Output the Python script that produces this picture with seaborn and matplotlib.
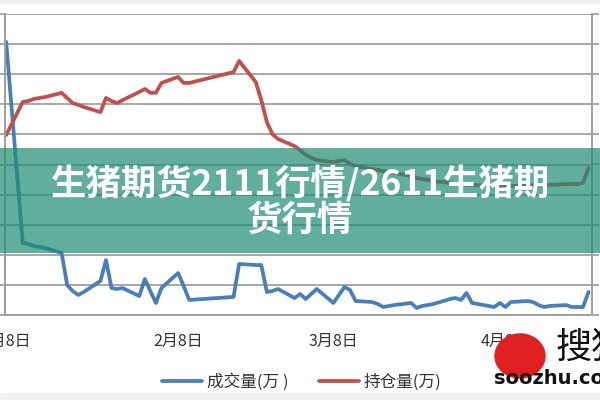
import pandas as pd
import numpy as np
import matplotlib.pyplot as plt
from matplotlib.patches import Rectangle, Ellipse
import seaborn as sns

sns.set_style("white")
plt.rcParams['font.family'] = ['Noto Sans CJK SC', 'DejaVu Sans']

## trading calendar: weekdays minus exchange holidays
holidays = ["2021-02-11", "2021-02-12", "2021-02-15", "2021-02-16", "2021-02-17", "2021-04-05"]
trade_days = pd.bdate_range("2021-01-08", "2021-04-23")
trade_days = trade_days[~trade_days.isin(pd.to_datetime(holidays))]

# 成交量(万)
volume = [18.14, 4.78, 4.72, 4.58, 4.52, 4.45, 4.12, 1.99, 1.59, 1.33, 1.53, 2.26, 3.65, 1.79, 1.73, 1.79,
          1.26, 2.39, 1.59, 0.80, 1.79, 2.79, 1.93, 1.00, 1.20, 3.39, 3.32, 3.32, 1.53, 1.59, 1.73,
          1.13, 1.40, 1.06, 1.40, 1.73, 0.80, 1.33, 1.86, 1.66, 0.93, 0.86, 0.73, 0.53, 0.60, 0.66,
          0.80, 0.47, 0.60, 0.66, 0.73, 1.06, 1.13, 1.00,
          1.46, 0.80, 0.53, 0.80, 0.53, 0.86, 0.93, 0.86, 0.66, 0.53, 0.60, 0.66, 0.53, 0.53, 0.53, 1.53]
# 持仓量(万)
open_interest = [5.98, 7.08, 7.11, 7.18, 7.21, 7.24, 7.38, 7.21, 7.04, 6.98, 6.91, 6.74, 7.21, 7.11, 7.04, 7.14,
                 7.41, 7.51, 7.38, 7.38, 7.71, 7.91, 7.71, 7.71, 8.07, 8.44, 7.74, 7.14, 6.41, 6.01, 5.85,
                 5.61, 5.48, 5.32, 5.22, 5.15, 5.08, 5.12, 5.15, 5.02, 4.95, 4.85, 4.82, 4.78, 4.75, 4.72,
                 4.62, 4.55, 4.52, 4.49, 4.45, 4.39, 4.35, 4.35,
                 4.32, 4.32, 4.29, 4.29, 4.32, 4.29, 4.29, 4.32, 4.29, 4.32, 4.32, 4.35, 4.35, 4.35, 4.39, 4.88]

tick_dates = ["2021-01-08", "2021-02-08", "2021-03-08", "2021-04-08"]
tick_labels = ["1月8日", "2月8日", "3月8日", "4月8日"]
series_names = ["成交量(万 )", "持仓量(万)"]
title_lines = ["生猪期货2111行情/2611生猪期", "货行情"]

df = pd.DataFrame({'date': trade_days, 'volume': volume, 'oi': open_interest})

fig = plt.figure(figsize=(6, 4), dpi=100)
ax = fig.add_axes([5 / 600, 1 - 315 / 400, 587 / 600, 301 / 400])
ax2 = ax.twinx()

sns.lineplot(x='date', y='volume', data=df, ax=ax, color='#4a7ebb', linewidth=2.7, label=series_names[0], legend=False)
sns.lineplot(x='date', y='oi', data=df, ax=ax2, color='#c0504d', linewidth=2.7, label=series_names[1], legend=False)

grid_c = '#a0a0a0'
ax.set_ylim(0, 20)
ax.set_yticks(np.arange(0, 21, 2))
ax2.set_ylim(0, 10)
ax2.set_yticks(np.arange(0, 11, 1))
ax.set_yticklabels([])
ax2.set_yticklabels([])
ax.yaxis.grid(True, color=grid_c, linewidth=1.3)
ax.set_ylabel('')
ax2.set_ylabel('')
ax.set_xlabel('')

x0 = pd.Timestamp("2021-01-08") - pd.Timedelta(hours=5)
x1 = pd.Timestamp("2021-04-23") + pd.Timedelta(hours=15)
ax.set_xlim(x0, x1)
ax.set_xticks(pd.to_datetime(tick_dates))
ax.set_xticklabels(tick_labels, fontsize=11.5, color='#333333')

for a in (ax, ax2):
    for side in a.spines:
        a.spines[side].set_color(grid_c)
        a.spines[side].set_linewidth(1.3)
    a.spines['top'].set_visible(False)
    a.tick_params(axis='both', length=5, width=1.3, color=grid_c, direction='out')
ax.tick_params(axis='x', pad=8)

# legend under the plot
h1, l1 = ax.get_legend_handles_labels()
h2, l2 = ax2.get_legend_handles_labels()
fig.legend(h1 + h2, l1 + l2, loc='center', bbox_to_anchor=(0.503, 1 - 382 / 400), ncol=2, frameon=False,
           fontsize=12, handlelength=2.4, columnspacing=1.8, handletextpad=0.3,
           labelcolor='#333333')

# light strips top / bottom
fig.add_artist(Rectangle((0, 1 - 3 / 400), 1, 3 / 400, transform=fig.transFigure, color='#eeeeee', zorder=4))
fig.add_artist(Rectangle((0, 0), 1, 7 / 400, transform=fig.transFigure, color='#f2f2f2', zorder=4))

# title banner
fig.add_artist(Rectangle((0, 1 - 253 / 400), 1, 105 / 400, transform=fig.transFigure,
                         color='#1e8c73', alpha=0.7, zorder=5, linewidth=0))
fig.text(0.5, 1 - 183 / 400, title_lines[0], ha='center', va='center', color='white',
         fontsize=25.5, fontweight='bold', zorder=6)
fig.text(0.5, 1 - 220 / 400, title_lines[1], ha='center', va='center', color='white',
         fontsize=25.5, fontweight='bold', zorder=6)

# watermark
fig.add_artist(Ellipse((520 / 600, 1 - 356 / 400), 50 / 600, 44 / 400, transform=fig.transFigure,
                       color='#e02020', zorder=5))
fig.text(556 / 600, 1 - 348 / 400, "搜猪", ha='left', va='center', fontsize=26, color='#111111', zorder=6)
fig.text(494 / 600, 1 - 379 / 400, "soozhu.com", ha='left', va='center', fontsize=14,
         fontweight='bold', color='#111111', zorder=6, family='DejaVu Sans')

plt.savefig("out.png", dpi=100)
